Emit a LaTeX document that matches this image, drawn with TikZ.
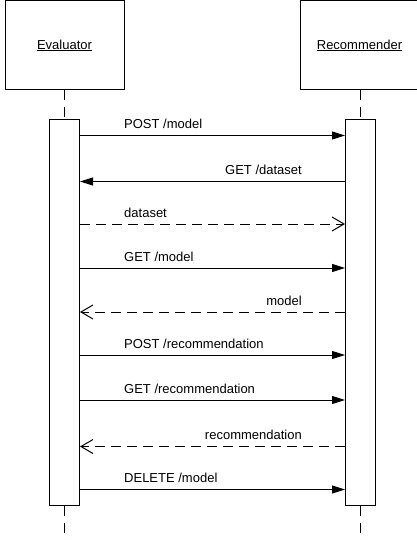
\documentclass[tikz,border=0pt]{standalone}
\usepackage{fontspec}
\setmainfont{Liberation Sans}
\usetikzlibrary{arrows.meta}
\begin{document}
\begin{tikzpicture}[x=1pt,y=-1pt,
  font=\fontsize{13pt}{15pt}\selectfont,
  actor/.style={draw,line width=1pt,inner sep=0pt,minimum width=119pt,minimum height=89pt},
  actbar/.style={draw,fill=white,line width=1pt,inner sep=0pt,minimum width=30pt,minimum height=385pt},
  lifeline/.style={draw,line width=1pt,dash pattern=on 10pt off 7pt},
  callmsg/.style={draw,line width=1pt,-{Triangle[length=13pt,width=8pt]}},
  replymsg/.style={draw,line width=1pt,dash pattern=on 10pt off 6pt,-{Straight Barb[length=12pt,width=14pt]}},
  lbl/.style={inner sep=0pt}]
\useasboundingbox (0,0) rectangle (417,540);
\node[actor] (eb) at (64.5,45.5) {\underline{Evaluator}};
\node[actor] (rb) at (359.5,45.5) {\underline{Recommender}};
\coordinate (eend) at (64.5,540);
\coordinate (rend) at (360.5,540);
\node[actbar] (ea) at (64.5,312.5) {};
\node[actbar] (ra) at (360.5,312.5) {};
\draw[lifeline] (eb.south) -- (ea.north);
\draw[lifeline] (rb.south -| ra.north) -- (ra.north);
\draw[lifeline] (ea.south) -- (eend);
\draw[lifeline] (ra.south) -- (rend);
% messages
\draw[callmsg] (ea.east |- 0,135.5) -- (ra.west |- 0,135.5);
\node[lbl,anchor=base west] (t1) at (124,128.5) {POST /model};
\draw[callmsg] (ra.west |- 0,181.5) -- (ea.east |- 0,181.5);
\node[lbl,anchor=base east] (t2) at (302,174.5) {GET /dataset};
\draw[replymsg] (ea.east |- 0,224) -- (ra.west |- 0,224);
\node[lbl,anchor=base west] (t3) at (124,217) {dataset};
\draw[callmsg] (ea.east |- 0,268) -- (ra.west |- 0,268);
\node[lbl,anchor=base west] (t4) at (124,261) {GET /model};
\draw[replymsg] (ra.west |- 0,312) -- (ea.east |- 0,312);
\node[lbl,anchor=base east] (t5) at (302,305) {model};
\draw[callmsg] (ea.east |- 0,355) -- (ra.west |- 0,355);
\node[lbl,anchor=base west] (t6) at (124,348) {POST /recommendation};
\draw[callmsg] (ea.east |- 0,400) -- (ra.west |- 0,400);
\node[lbl,anchor=base west] (t7) at (124,393) {GET /recommendation};
\draw[replymsg] (ra.west |- 0,446.5) -- (ea.east |- 0,446.5);
\node[lbl,anchor=base east] (t8) at (302,439.5) {recommendation};
\draw[callmsg] (ea.east |- 0,489.5) -- (ra.west |- 0,489.5);
\node[lbl,anchor=base west] (t9) at (124,482.5) {DELETE /model};
\end{tikzpicture}
\end{document}
